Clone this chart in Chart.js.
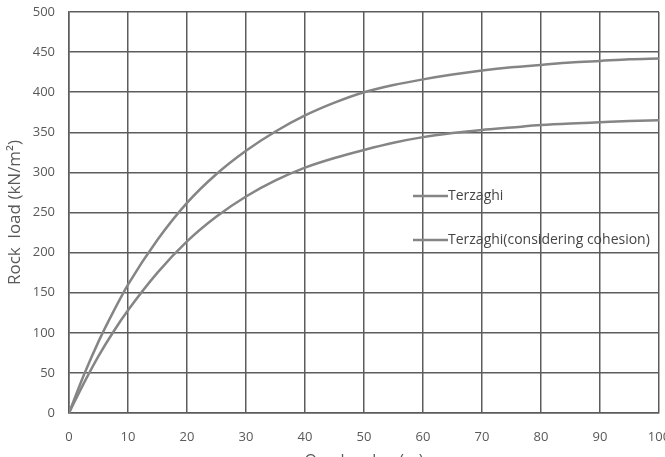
<!DOCTYPE html>
<html>
<head>
<meta charset="utf-8">
<script src="https://cdn.jsdelivr.net/npm/chart.js@4.4.0/dist/chart.umd.min.js"></script>
<style>
  html, body { margin: 0; padding: 0; background: #fff; overflow: hidden; }
  #wrap { width: 672px; height: 472px; }
</style>
</head>
<body>
<div id="wrap"><canvas id="myChart" width="672" height="472"></canvas></div>
<script>
// values
var overburden = [0, 2.5, 5, 7.5, 10, 15, 20, 25, 30, 35, 40, 45, 50, 55, 60, 65, 70, 75, 80, 85, 90, 95, 100]
var terzaghi = [0, 47, 89, 126, 160, 216, 262, 298, 327, 351, 371, 387, 400, 409, 416, 422, 427, 431, 434, 437, 439, 441, 442]
var terzaghiCohesion = [0, 37, 71, 101, 128, 175, 214, 245, 270, 290, 306, 318, 328, 337, 344, 349, 353, 356, 359, 361, 362.5, 364, 365]
var seriesNames = ['Terzaghi', 'Terzaghi(considering cohesion)']

var lineColor = '#858585'
var gridColor = '#5c5c5c'
var textColor = '#595959'

function toPoints(ys) {
    return overburden.map(function (x, i) { return { x: x, y: ys[i] } })
}

// legend drawn inside the plot, like the original
var innerLegend = {
    id: 'innerLegend',
    afterDraw: function (chart) {
        var ctx = chart.ctx
        var rows = [196, 240]
        ctx.save()
        ctx.font = '14px "Open Sans", sans-serif'
        ctx.textBaseline = 'middle'
        chart.data.datasets.forEach(function (ds, i) {
            var y = rows[i]
            ctx.strokeStyle = ds.borderColor
            ctx.lineWidth = 2.5
            ctx.beginPath()
            ctx.moveTo(413, y)
            ctx.lineTo(448, y)
            ctx.stroke()
            ctx.fillStyle = '#454545'
            ctx.fillText(ds.label, 448, y)
        })
        ctx.restore()
    }
}

window.addEventListener('load', function () {
    var ctx = document.getElementById('myChart').getContext('2d')
    new Chart(ctx, {
        type: 'line',
        data: {
            datasets: [
                {
                    label: seriesNames[0],
                    data: toPoints(terzaghi),
                    borderColor: lineColor,
                    borderWidth: 2.5,
                    pointRadius: 0,
                    fill: false,
                    cubicInterpolationMode: 'monotone'
                },
                {
                    label: seriesNames[1],
                    data: toPoints(terzaghiCohesion),
                    borderColor: lineColor,
                    borderWidth: 2.5,
                    pointRadius: 0,
                    fill: false,
                    cubicInterpolationMode: 'monotone'
                }
            ]
        },
        options: {
            responsive: false,
            animation: false,
            layout: { padding: { left: 0, right: 13, top: 12, bottom: 0 } },
            plugins: {
                legend: { display: false },
                tooltip: { enabled: false }
            },
            scales: {
                x: {
                    type: 'linear',
                    min: 0,
                    max: 100,
                    afterFit: function (scale) {
                        scale.height = 59
                        scale.paddingLeft = 0
                        scale.paddingRight = 0
                    },
                    ticks: { stepSize: 10, color: textColor, padding: 16, font: { family: '"Open Sans", sans-serif', size: 13 } },
                    grid: { color: gridColor, lineWidth: 1.5, drawTicks: false },
                    border: { color: gridColor, width: 1.5 },
                    title: {
                        display: true,
                        text: 'Overburden (m)',
                        color: textColor,
                        font: { family: '"Open Sans", sans-serif', size: 16 },
                        padding: { top: 4, bottom: 1 }
                    }
                },
                y: {
                    min: 0,
                    max: 500,
                    afterFit: function (scale) {
                        scale.width = 69
                        scale.paddingTop = 0
                        scale.paddingBottom = 0
                    },
                    ticks: { stepSize: 50, color: textColor, padding: 14, font: { family: '"Open Sans", sans-serif', size: 13 } },
                    grid: { color: gridColor, lineWidth: 1.5, drawTicks: false },
                    border: { color: gridColor, width: 1.5 },
                    title: {
                        display: true,
                        text: 'Rock  load (kN/m²)',
                        color: textColor,
                        font: { family: '"Open Sans", sans-serif', size: 17 },
                        padding: { top: 5, bottom: 0 }
                    }
                }
            }
        },
        plugins: [innerLegend]
    })
})
</script>
</body>
</html>
